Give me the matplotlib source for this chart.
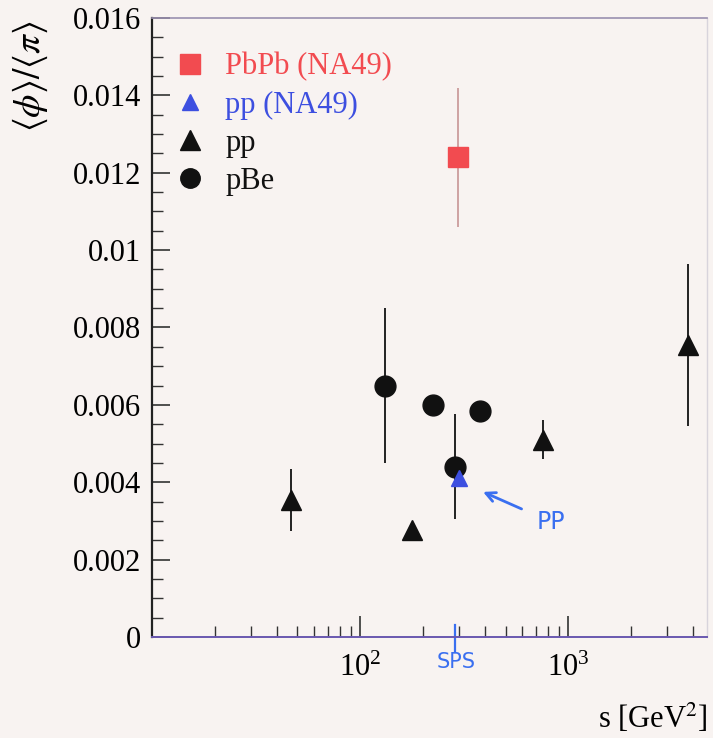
import matplotlib
matplotlib.use("Agg")
import matplotlib.pyplot as plt
from matplotlib.lines import Line2D
from matplotlib.ticker import LogLocator, FixedLocator, LogFormatterSciNotation, MultipleLocator, NullFormatter

plt.rcParams['font.family'] = ['Liberation Serif', 'DejaVu Serif']
plt.rcParams['mathtext.fontset'] = 'stix'

# data: s [GeV^2], <phi>/<pi>, error
pbpb_s = [296]
pbpb_y = [0.0124]
pbpb_err = [0.0018]

pp_na49_s = [300]
pp_na49_y = [0.0041]

pp_s = [46.6, 178, 760, 3780]
pp_y = [0.00354, 0.00276, 0.0051, 0.00755]
pp_err = [0.0008, 0.0, 0.0005, 0.0021]

pbe_s = [132, 224, 285, 378]
pbe_y = [0.0065, 0.0060, 0.0044, 0.00584]
pbe_err = [0.002, 0.0, 0.00136, 0.0]

bg = '#f8f3f1'
red = '#f24b50'
blue = '#3d4fe0'
pen = '#3a6ff0'

fig = plt.figure(figsize=(7.13, 7.38), dpi=100, facecolor=bg)
ax = fig.add_axes([0.2132, 0.1369, 0.7784, 0.8387], facecolor=bg)

# error bars first
ax.errorbar(pbpb_s, pbpb_y, yerr=pbpb_err, fmt='none', ecolor='#c79595', elinewidth=1.2)
ax.errorbar(pp_s, pp_y, yerr=pp_err, fmt='none', ecolor='#222222', elinewidth=1.4)
ax.errorbar(pbe_s, pbe_y, yerr=pbe_err, fmt='none', ecolor='#222222', elinewidth=1.4)

ax.plot(pbpb_s, pbpb_y, 's', color=red, markersize=15, zorder=5)
ax.plot(pbe_s, pbe_y, 'o', color='#111111', markersize=15, zorder=5)
ax.plot(pp_s, pp_y, '^', color='#111111', markersize=15, zorder=5)
ax.plot(pp_na49_s, pp_na49_y, '^', color=blue, markersize=12, zorder=6)

ax.set_xscale('log')
ax.set_xlim(10, 4650)
ax.set_ylim(0, 0.016)

ax.xaxis.set_major_locator(FixedLocator([100, 1000]))
ax.xaxis.set_major_formatter(LogFormatterSciNotation())
ax.xaxis.set_minor_locator(LogLocator(base=10, subs=range(2, 10)))
ax.xaxis.set_minor_formatter(NullFormatter())
ax.yaxis.set_minor_locator(MultipleLocator(0.0005))
ax.set_yticks([0, 0.002, 0.004, 0.006, 0.008, 0.01, 0.012, 0.014, 0.016])
ax.set_yticklabels(['0', '0.002', '0.004', '0.006', '0.008', '0.01', '0.012', '0.014', '0.016'])

ax.tick_params(axis='both', which='both', direction='in', top=False, right=False,
               labelsize=22, color='#333333')
ax.tick_params(axis='y', which='major', length=13, width=1.2, pad=8)
ax.tick_params(axis='y', which='minor', length=8, width=1.0)
ax.tick_params(axis='x', which='major', length=15, width=1.2, pad=12)
ax.tick_params(axis='x', which='minor', length=8, width=1.0)

ax.spines['left'].set_color('#222222')
ax.spines['left'].set_linewidth(1.6)
ax.spines['bottom'].set_color('#6a58b0')
ax.spines['bottom'].set_linewidth(1.4)
ax.spines['top'].set_color('#9a90b0')
ax.spines['top'].set_linewidth(1.2)
ax.spines['right'].set_color('#d8d4dc')
ax.spines['right'].set_linewidth(1.0)

# legend
handles = [
    Line2D([], [], marker='s', color=red, ls='none', markersize=14),
    Line2D([], [], marker='^', color=blue, ls='none', markersize=11),
    Line2D([], [], marker='^', color='#111111', ls='none', markersize=14),
    Line2D([], [], marker='o', color='#111111', ls='none', markersize=14),
]
labels = ['PbPb (NA49)', 'pp (NA49)', 'pp', 'pBe']
leg = ax.legend(handles, labels, loc='upper left', bbox_to_anchor=(0.041, 0.945),
                frameon=False, fontsize=22, handlelength=1.0, handletextpad=0.65,
                labelspacing=0.3, borderpad=0, borderaxespad=0)
for txt, c in zip(leg.get_texts(), [red, blue, '#111111', '#111111']):
    txt.set_color(c)

# axis titles
fig.text(30 / 713, 1 - 20 / 738, r'$\langle\phi\rangle/\langle\pi\rangle$', rotation=90,
         ha='center', va='top', fontsize=27)
fig.text(708 / 713, 1 - 735 / 738, r's [GeV$^2$]', ha='right', va='bottom', fontsize=22)

# handwritten notes
ax.plot([287, 287], [-0.0004, 0.0003], color=pen, lw=1.6, clip_on=False)
ax.text(290, -0.0004, 'SPS', color=pen, fontsize=15, family='DejaVu Sans',
        ha='center', va='top', clip_on=False)
ax.annotate('PP', xy=(390, 0.00375), xytext=(830, 0.00297), color=pen, fontsize=17,
            family='DejaVu Sans', ha='center', va='center',
            arrowprops=dict(arrowstyle='->', color=pen, lw=2.0, shrinkA=10, shrinkB=0))

fig.savefig('out.png', dpi=100, facecolor=bg)
